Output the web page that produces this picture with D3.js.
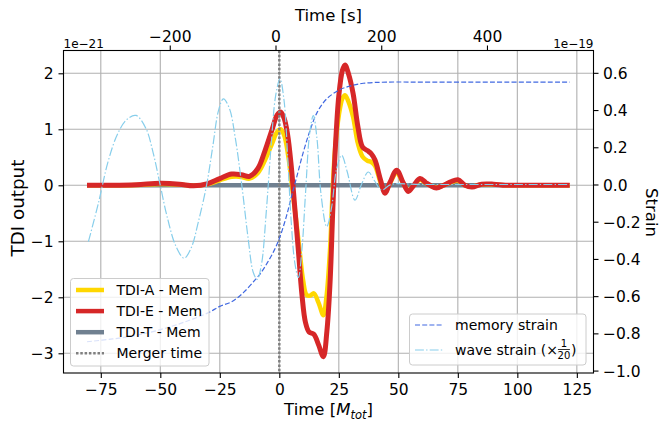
<!DOCTYPE html>
<html>
<head>
<meta charset="utf-8">
<script src="https://cdn.jsdelivr.net/npm/d3@7"></script>
<style>
  body { margin: 0; background: #fff; }
  text { font-family: "DejaVu Sans", sans-serif; fill: #000; }
</style>
</head>
<body>
<div id="chart"></div>
<script>
// ---- data ----
const xTicks = [-75, -50, -25, 0, 25, 50, 75, 100, 125];
const topTicks = [-200, 0, 200, 400];
const leftTicks = [-3, -2, -1, 0, 1, 2];
const rightTicks = [-1.0, -0.8, -0.6, -0.4, -0.2, 0.0, 0.2, 0.4, 0.6];

// TDI outputs, x in M_tot, y in 1e-21
const tdiA = [[-80.8,0],[-70,0],[-60,0.005],[-50,0.025],[-42,0.015],[-36,-0.01],[-30,0.02],[-25,0.09],[-20,0.15],[-16,0.15],[-12.5,0.12],[-9,0.22],[-6,0.45],[-3,0.75],[-1,0.95],[0.5,1.0],[2,0.9],[3.8,0.51],[5.5,-0.08],[7,-0.6],[8.5,-1.16],[10,-1.7],[11.5,-1.96],[13,-1.97],[14.5,-1.93],[16.5,-2.1],[18.5,-2.32],[19.8,-2.0],[21.3,-1.16],[22.3,-0.2],[23.4,0.63],[25,1.25],[26.5,1.55],[27.6,1.61],[29,1.5],[31,1.22],[33,0.75],[35,0.51],[37,0.44],[38.5,0.42],[40.2,0.35],[42.5,0.05],[44.4,-0.12],[46.5,0.04],[49.3,0.22],[52,0.04],[54.2,-0.09],[56.5,0],[59.1,0.1],[61.5,0.04],[63.3,0],[66,-0.04],[69,0],[72,0.05],[75,0.08],[78,0],[81,-0.02],[85,0.015],[90,0.015],[95,0],[100,0],[110,0],[122,0]];
const tdiE = [[-80.8,0],[-70,0],[-60,0.01],[-50,0.035],[-42,0.02],[-36,-0.01],[-30,0.03],[-25,0.12],[-20,0.2],[-16,0.19],[-12.5,0.16],[-9,0.3],[-6,0.62],[-3,1.0],[-1,1.25],[0.5,1.31],[2,1.2],[3.5,0.9],[5,0.35],[6.5,-0.4],[8,-1.16],[9.5,-1.95],[11,-2.45],[12.5,-2.62],[14.5,-2.66],[16.5,-2.85],[18.5,-3.06],[20,-2.6],[21.3,-1.75],[22.5,-0.4],[23.5,0.63],[25,1.6],[26.5,2.05],[27.6,2.15],[29,2.0],[31,1.64],[33,1.05],[35,0.68],[37,0.62],[38.5,0.57],[40.2,0.45],[42.5,0.1],[44.4,-0.14],[46.5,0.05],[49.3,0.27],[52,0.05],[54.2,-0.11],[56.5,0],[59.1,0.12],[61.5,0.05],[63.3,0],[66,-0.05],[69,0],[72,0.06],[75,0.1],[78,0],[81,-0.03],[85,0.02],[90,0.02],[95,0],[100,0],[110,0],[122,0]];
const tdiT = [[-80.8,0],[122,0]];
const mergerTime = 0;

// strains, x in M_tot, y in 1e-19
const memoryStrain = [[-80.8,-0.845],[-70,-0.83],[-60,-0.81],[-50,-0.78],[-40,-0.74],[-30,-0.69],[-25,-0.655],[-20,-0.63],[-15,-0.58],[-10,-0.51],[-8,-0.48],[-5,-0.42],[-2,-0.35],[0.3,-0.28],[3,-0.17],[5,-0.07],[7.3,0.04],[10,0.17],[12.9,0.29],[16,0.39],[19.9,0.46],[25.5,0.51],[30,0.53],[35.3,0.544],[45,0.55],[63.3,0.55],[90,0.55],[122,0.55]];
const waveStrain = [[-80.2,-0.307],[-76,-0.1],[-72,0.12],[-68,0.27],[-64,0.35],[-60.2,0.371],[-56,0.3],[-53,0.17],[-50.1,0],[-47,-0.18],[-43.5,-0.33],[-40,-0.396],[-37,-0.34],[-34,-0.2],[-30.5,0],[-28,0.2],[-25.5,0.4],[-23.5,0.46],[-21,0.41],[-18.5,0.25],[-15.8,0],[-13,-0.3],[-11,-0.47],[-9.3,-0.51],[-7.5,-0.43],[-5.5,-0.15],[-3.5,0.2],[-1.5,0.48],[0.3,0.568],[2,0.45],[3.5,0.15],[5,-0.2],[6.5,-0.42],[8,-0.5],[9.5,-0.35],[11,-0.05],[12.8,0.28],[14.3,0.37],[15.8,0.25],[17.5,-0.05],[19.9,-0.227],[22,-0.12],[24,0.08],[26.2,0.157],[28.5,0.07],[31.8,-0.084],[34.5,0.0],[37.4,0.067],[40,0.02],[43,-0.03],[47,0.0],[60,0],[122,0]];

// ---- layout ----
const W = 660, H = 422;
const X0 = 63.5, X1 = 593.5, Y0 = 50.5, Y1 = 373;

const svg = d3.select("#chart").append("svg")
  .attr("width", W).attr("height", H);

const x = d3.scaleLinear().domain([-90.67, 132.0]).range([X0, X1]);
const xTop = d3.scaleLinear().domain([-401, 601.5]).range([X0, X1]);
const y = d3.scaleLinear().domain([-3.352, 2.407]).range([Y1, Y0]);
const yR = d3.scaleLinear().domain([-1.013, 0.720]).range([Y1, Y0]);

const tickFont = 15.5;

// grid
const grid = svg.append("g");
grid.selectAll(".gx").data(xTicks).join("line")
  .attr("x1", d => x(d)).attr("x2", d => x(d))
  .attr("y1", Y0).attr("y2", Y1)
  .attr("stroke", "#b0b0b0").attr("stroke-width", 1.1);
grid.selectAll(".gy").data(leftTicks).join("line")
  .attr("x1", X0).attr("x2", X1)
  .attr("y1", d => y(d)).attr("y2", d => y(d))
  .attr("stroke", "#b0b0b0").attr("stroke-width", 1.1);

// TDI curves
const lineL = d3.line().x(d => x(d[0])).y(d => y(d[1])).curve(d3.curveCatmullRom.alpha(0.5));
const lineR = d3.line().x(d => x(d[0])).y(d => yR(d[1])).curve(d3.curveCatmullRom.alpha(0.5));

svg.append("path").datum(tdiT).attr("d", lineL)
  .attr("fill", "none").attr("stroke", "#708090").attr("stroke-width", 4.5);
svg.append("path").datum(tdiA).attr("d", lineL)
  .attr("fill", "none").attr("stroke", "#ffd700").attr("stroke-width", 4.5)
  .attr("stroke-linejoin", "round");
svg.append("path").datum(tdiE).attr("d", lineL)
  .attr("fill", "none").attr("stroke", "#d62728").attr("stroke-width", 5)
  .attr("stroke-linejoin", "round");

// merger time
svg.append("line")
  .attr("x1", x(mergerTime)).attr("x2", x(mergerTime))
  .attr("y1", Y0).attr("y2", Y1)
  .attr("stroke", "#808080").attr("stroke-width", 2.5)
  .attr("stroke-dasharray", "2.5,1.8");

// strains (twin axis)
svg.append("path").datum(memoryStrain).attr("d", lineR)
  .attr("fill", "none").attr("stroke", "#4169e1").attr("stroke-width", 1.2)
  .attr("stroke-dasharray", "5,2.2");
svg.append("path").datum(waveStrain).attr("d", lineR)
  .attr("fill", "none").attr("stroke", "#87ceeb").attr("stroke-width", 1.2)
  .attr("stroke-dasharray", "8.9,2.2,1.4,2.2");

// axes
function styleAxis(g) {
  g.select(".domain").remove();
  g.selectAll(".tick line").attr("stroke", "#000").attr("stroke-width", 1.1);
  g.selectAll(".tick text").attr("font-size", tickFont)
    .attr("font-family", "DejaVu Sans").attr("fill", "#000");
}

svg.append("g").attr("transform", `translate(0,${Y1})`)
  .call(d3.axisBottom(x).tickValues(xTicks).tickSize(5).tickFormat(d3.format("d")))
  .call(styleAxis)
  .call(g => g.selectAll(".tick text").attr("y", 22).attr("dy", 0));

svg.append("g").attr("transform", `translate(0,${Y0})`)
  .call(d3.axisTop(xTop).tickValues(topTicks).tickSize(5).tickFormat(d3.format("d")))
  .call(styleAxis)
  .call(g => g.selectAll(".tick text").attr("y", -8.8).attr("dy", 0));

svg.append("g").attr("transform", `translate(${X0},0)`)
  .call(d3.axisLeft(y).tickValues(leftTicks).tickSize(5).tickFormat(d3.format("d")))
  .call(styleAxis)
  .call(g => g.selectAll(".tick text").attr("x", -10).attr("dy", "0.36em"));

svg.append("g").attr("transform", `translate(${X1},0)`)
  .call(d3.axisRight(yR).tickValues(rightTicks).tickSize(5).tickFormat(d3.format(".1f")))
  .call(styleAxis)
  .call(g => g.selectAll(".tick text").attr("x", 9.5).attr("dy", "0.36em"));

// spines
svg.append("rect").attr("x", X0).attr("y", Y0)
  .attr("width", X1 - X0).attr("height", Y1 - Y0)
  .attr("fill", "none").attr("stroke", "#000").attr("stroke-width", 1.1);

// offset texts
svg.append("text").attr("x", X0).attr("y", 48).attr("font-size", 12).text("1e\u221221");
svg.append("text").attr("x", X1).attr("y", 48).attr("font-size", 12)
  .attr("text-anchor", "end").text("1e\u221219");

// axis labels
svg.append("text").attr("x", (X0 + X1) / 2).attr("y", 21).attr("font-size", 16.5)
  .attr("text-anchor", "middle").text("Time [s]");

const xl = svg.append("text").attr("x", (X0 + X1) / 2).attr("y", 415)
  .attr("font-size", 16.5).attr("text-anchor", "middle");
xl.append("tspan").text("Time [");
xl.append("tspan").attr("font-style", "italic").text("M");
xl.append("tspan").attr("font-style", "italic").attr("font-size", 11.5).attr("dy", 3.5).text("tot");
xl.append("tspan").attr("dy", -3.5).text("]");

svg.append("text").attr("transform", `translate(23.5,208) rotate(-90)`)
  .attr("font-size", 18.3).attr("text-anchor", "middle").text("TDI output");
svg.append("text").attr("transform", `translate(645.5,212.5) rotate(90)`)
  .attr("font-size", 16.5).attr("text-anchor", "middle").text("Strain");

// legend 1
const legFont = 14;
const leg1 = [
  {label: "TDI-A - Mem", color: "#ffd700", w: 4.5, dash: null},
  {label: "TDI-E - Mem", color: "#d62728", w: 4.5, dash: null},
  {label: "TDI-T - Mem", color: "#708090", w: 4.5, dash: null},
  {label: "Merger time", color: "#808080", w: 2.5, dash: "2.5,1.8"}
];
const l1 = svg.append("g");
l1.append("rect").attr("x", 70.5).attr("y", 278.5).attr("width", 138.5).attr("height", 87.5)
  .attr("rx", 3).attr("fill", "#fff").attr("fill-opacity", 0.8)
  .attr("stroke", "#cccccc").attr("stroke-width", 1);
leg1.forEach((d, i) => {
  const cy = 290 + i * 21.1;
  l1.append("line").attr("x1", 76).attr("x2", 104).attr("y1", cy).attr("y2", cy)
    .attr("stroke", d.color).attr("stroke-width", d.w)
    .attr("stroke-dasharray", d.dash);
  l1.append("text").attr("x", 116.5).attr("y", cy).attr("dy", "0.36em")
    .attr("font-size", legFont).text(d.label);
});

// legend 2
const l2 = svg.append("g");
l2.append("rect").attr("x", 409.5).attr("y", 314).attr("width", 176.5).attr("height", 51)
  .attr("rx", 3).attr("fill", "#fff").attr("fill-opacity", 0.8)
  .attr("stroke", "#cccccc").attr("stroke-width", 1);
l2.append("line").attr("x1", 415).attr("x2", 443).attr("y1", 325).attr("y2", 325)
  .attr("stroke", "#4169e1").attr("stroke-width", 1.2).attr("stroke-dasharray", "5,2.2");
l2.append("text").attr("x", 455).attr("y", 325).attr("dy", "0.36em")
  .attr("font-size", legFont).text("memory strain");
l2.append("line").attr("x1", 415).attr("x2", 443).attr("y1", 350).attr("y2", 350)
  .attr("stroke", "#87ceeb").attr("stroke-width", 1.2).attr("stroke-dasharray", "8.9,2.2,1.4,2.2");
const ws = l2.append("text").attr("x", 455).attr("y", 350).attr("dy", "0.36em")
  .attr("font-size", legFont).text("wave strain (\u00d7");
const wl = ws.node().getComputedTextLength();
const fx = 455 + wl + 6;
l2.append("text").attr("x", fx).attr("y", 347).attr("font-size", 10)
  .attr("text-anchor", "middle").text("1");
l2.append("line").attr("x1", fx - 6).attr("x2", fx + 6).attr("y1", 349.5).attr("y2", 349.5)
  .attr("stroke", "#000").attr("stroke-width", 0.8);
l2.append("text").attr("x", fx).attr("y", 359).attr("font-size", 10)
  .attr("text-anchor", "middle").text("20");
l2.append("text").attr("x", fx + 7).attr("y", 350).attr("dy", "0.36em")
  .attr("font-size", legFont).text(")");
</script>
</body>
</html>
